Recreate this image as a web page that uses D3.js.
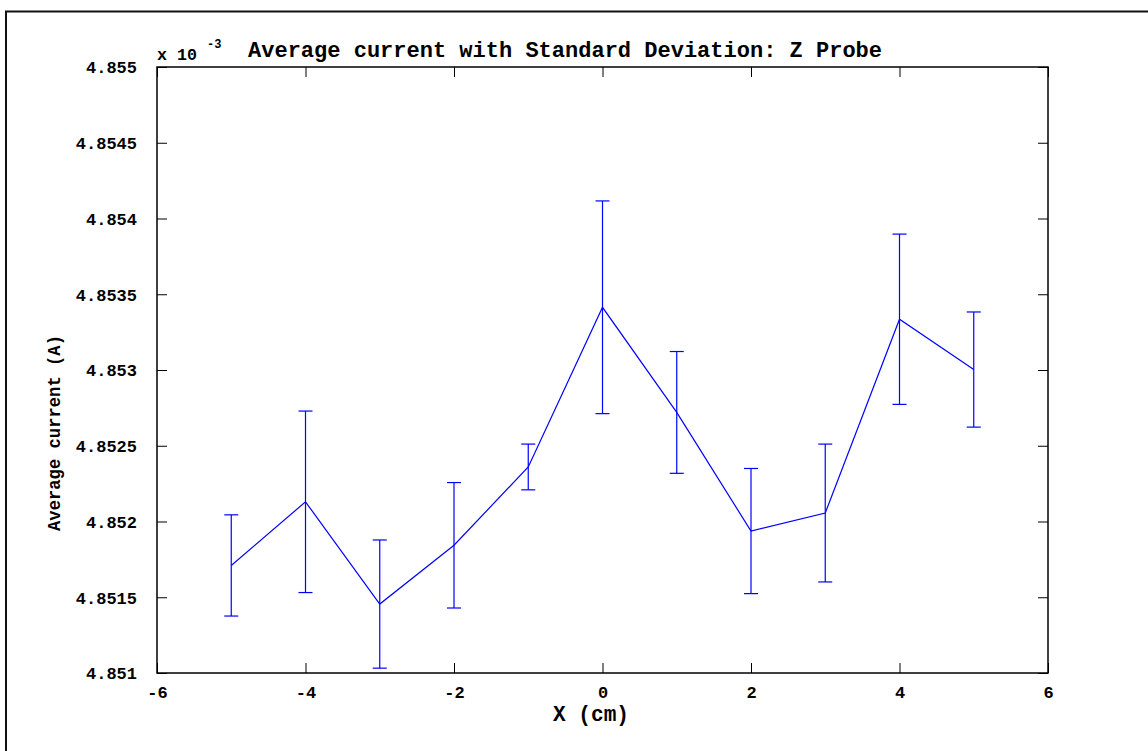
<!DOCTYPE html>
<html>
<head>
<meta charset="utf-8">
<script src="https://cdn.jsdelivr.net/npm/d3@7"></script>
<style>
  html, body { margin: 0; padding: 0; background: #fff; }
  svg { display: block; }
  text { font-family: "Liberation Mono", "DejaVu Sans Mono", monospace; fill: #000; }
</style>
</head>
<body>
<svg id="chart" width="1148" height="751"></svg>
<script>
// Data (current values in units of 1e-3 A)
const positions = [-5, -4, -3, -2, -1, 0, 1, 2, 3, 4, 5];
const meanCurrent = [4.851710, 4.852130, 4.851455, 4.851843, 4.852360, 4.853414, 4.852720, 4.851937, 4.852056, 4.853335, 4.853003];
const stdCurrent = [0.000334, 0.000599, 0.000423, 0.000414, 0.000151, 0.000702, 0.000402, 0.000413, 0.000455, 0.000562, 0.000380];
const xTicks = [-6, -4, -2, 0, 2, 4, 6];
const yTicks = [4.851, 4.8515, 4.852, 4.8525, 4.853, 4.8535, 4.854, 4.8545, 4.855];
const titleText = "Average current with Standard Deviation: Z Probe";
const xLabel = "X (cm)";
const yLabel = "Average current (A)";

const svg = d3.select("#chart");
const L = 157, R = 1048, T = 67, B = 673;

const x = d3.scaleLinear().domain([-6, 6]).range([L, R]);
const y = d3.scaleLinear().domain([4.851, 4.855]).range([B, T]);

// outer frame
svg.append("path")
  .attr("d", "M6,760 L6,11.5 L1160,11.5")
  .attr("fill", "none").attr("stroke", "#111").attr("stroke-width", 2);

// plot box
svg.append("rect").attr("x", L).attr("y", T).attr("width", R - L).attr("height", B - T)
  .attr("fill", "none").attr("stroke", "#000").attr("stroke-width", 1.5);

const fmtY = d => String(+d.toFixed(4));

// Axes (ticks inward)
const tickLen = 10;
const xAxisB = d3.axisBottom(x).tickValues(xTicks).tickSize(-tickLen).tickPadding(tickLen + 3).tickFormat(d => d);
const gxb = svg.append("g").attr("transform", `translate(0,${B})`).call(xAxisB);
const xAxisT = d3.axisTop(x).tickValues(xTicks).tickSize(-tickLen).tickFormat("");
const gxt = svg.append("g").attr("transform", `translate(0,${T})`).call(xAxisT);
const yAxisL = d3.axisLeft(y).tickValues(yTicks).tickSize(-tickLen).tickPadding(tickLen + 10).tickFormat(fmtY);
const gyl = svg.append("g").attr("transform", `translate(${L},0)`).call(yAxisL);
const yAxisR = d3.axisRight(y).tickValues(yTicks).tickSize(-tickLen).tickFormat("");
const gyr = svg.append("g").attr("transform", `translate(${R},0)`).call(yAxisR);

[gxb, gxt, gyl, gyr].forEach(g => {
  g.select(".domain").remove();
  g.selectAll(".tick line").attr("stroke", "#000").attr("stroke-width", 1);
  g.selectAll("text").attr("font-family", "'Liberation Mono', monospace")
    .attr("font-size", 17).attr("font-weight", "bold").attr("fill", "#000");
});
gxb.selectAll("text").attr("dy", "0.7em");
gyl.selectAll("text").attr("dy", "0.35em");

// error bars
const cap = 7;
const eb = svg.append("g").attr("stroke", "#0000ff").attr("stroke-width", 1.2).attr("fill", "none");
positions.forEach((p, i) => {
  const cx = x(p), top = y(meanCurrent[i] + stdCurrent[i]), bot = y(meanCurrent[i] - stdCurrent[i]);
  eb.append("line").attr("x1", cx).attr("x2", cx).attr("y1", top).attr("y2", bot);
  eb.append("line").attr("x1", cx - cap).attr("x2", cx + cap).attr("y1", top).attr("y2", top);
  eb.append("line").attr("x1", cx - cap).attr("x2", cx + cap).attr("y1", bot).attr("y2", bot);
});

// mean line
const line = d3.line().x((d, i) => x(positions[i])).y(d => y(d));
svg.append("path").datum(meanCurrent).attr("d", line)
  .attr("fill", "none").attr("stroke", "#0000ff").attr("stroke-width", 1.2);

// title
svg.append("text").attr("x", 248).attr("y", 57).attr("font-size", 22).attr("font-weight", "bold")
  .attr("textLength", 634).attr("lengthAdjust", "spacingAndGlyphs")
  .text(titleText);

// exponent
svg.append("text").attr("x", 157).attr("y", 60).attr("font-size", 16).attr("font-weight", "bold")
  .attr("textLength", 40).attr("lengthAdjust", "spacingAndGlyphs").text("x 10");
svg.append("text").attr("x", 207).attr("y", 48).attr("font-size", 12).attr("font-weight", "bold").text("-3");

// axis labels
svg.append("text").attr("x", 591).attr("y", 721).attr("text-anchor", "middle").attr("font-weight", "bold")
  .attr("font-size", 22).attr("textLength", 76).attr("lengthAdjust", "spacingAndGlyphs").text(xLabel);
svg.append("text").attr("transform", "translate(60,433) rotate(-90)").attr("text-anchor", "middle").attr("font-weight", "bold")
  .attr("font-size", 19).attr("textLength", 196).attr("lengthAdjust", "spacingAndGlyphs").text(yLabel);
</script>
</body>
</html>
